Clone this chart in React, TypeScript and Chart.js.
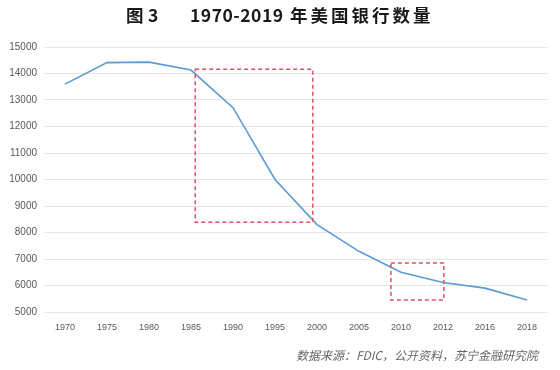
import React, { useEffect, useRef } from "react";
import { Chart, registerables } from "chart.js";

Chart.register(...registerables);

const categories = ["1970", "1975", "1980", "1985", "1990", "1995", "2000", "2005", "2010", "2012", "2016", "2018"];
const bankCounts = [13600, 14410, 14430, 14130, 12710, 10000, 8300, 7290, 6500, 6110, 5900, 5450];
const yTicks = [5000, 6000, 7000, 8000, 9000, 10000, 11000, 12000, 13000, 14000, 15000];
// highlight boxes: [x start (category index), x end, y top value, y bottom value]
const boxA = [3.1, 5.9, 14160, 8390];
const boxB = [7.76, 9.02, 6850, 5450];
const titleParts = ["图", "3", "1970-2019", "年美国银行数量"];
const sourceText = "数据来源：FDIC，公开资料，苏宁金融研究院";

const overlayPlugin = {
  id: "overlay",
  afterDatasetsDraw(chart: any) {
    const ctx = chart.ctx;
    const xs = chart.scales.x;
    const ys = chart.scales.y;
    ctx.save();
    ctx.strokeStyle = "#e0505f";
    ctx.lineWidth = 1.5;
    ctx.setLineDash([4, 3]);
    for (const b of [boxA, boxB]) {
      const x1 = xs.getPixelForValue(b[0]);
      const x2 = xs.getPixelForValue(b[1]);
      const y1 = ys.getPixelForValue(b[2]);
      const y2 = ys.getPixelForValue(b[3]);
      ctx.strokeRect(x1, y1, x2 - x1, y2 - y1);
    }
    ctx.restore();
  },
  afterDraw(chart: any) {
    const ctx = chart.ctx;
    ctx.save();
    ctx.fillStyle = "#1a1a1a";
    ctx.font = "bold 17.5px 'Noto Sans CJK SC'";
    ctx.textAlign = "left";
    ctx.textBaseline = "middle";
    const starts = [126, 148, 190, 290];
    const spacing = ["0px", "0px", "0.5px", "3px"];
    titleParts.forEach((t, i) => {
      (ctx as any).letterSpacing = spacing[i];
      ctx.fillText(t, starts[i], 15);
    });
    (ctx as any).letterSpacing = "0px";
    ctx.fillStyle = "#666666";
    ctx.font = "italic 12px 'Noto Sans CJK SC'";
    ctx.textAlign = "right";
    ctx.fillText(sourceText, 538, 355);
    ctx.restore();
  },
};

export default function App() {
  const ref = useRef<HTMLCanvasElement>(null);
  useEffect(() => {
    if (!ref.current) return;
    const chart = new Chart(ref.current, {
      type: "line",
      data: {
        labels: categories,
        datasets: [
          {
            data: bankCounts,
            borderColor: "#5b9bd5",
            borderWidth: 1.6,
            pointRadius: 0,
            tension: 0,
            fill: false,
          },
        ],
      },
      options: {
        animation: false,
        responsive: false,
        maintainAspectRatio: false,
        layout: { padding: { top: 47, left: 0, right: 12, bottom: 0 } },
        plugins: { legend: { display: false }, tooltip: { enabled: false }, title: { display: false } },
        scales: {
          x: {
            offset: true,
            grid: { display: false, drawTicks: false },
            border: { display: false },
            ticks: { color: "#595959", font: { family: "'Liberation Sans'", size: 9 }, padding: 10, maxRotation: 0, autoSkip: false },
            afterFit: (s: any) => { s.height = 58; },
          },
          y: {
            min: 5000,
            max: 15000,
            grid: { color: "#e6e6e6", drawTicks: false },
            border: { display: false },
            afterBuildTicks: (s: any) => { s.ticks = yTicks.map((v) => ({ value: v })); },
            ticks: {
              color: "#595959",
              font: { family: "'Liberation Sans'", size: 10 },
              padding: 7,
              callback: (v: any) => String(v),
            },
            afterFit: (s: any) => { s.width = 44; },
          },
        },
      },
      plugins: [overlayPlugin],
    });
    return () => chart.destroy();
  }, []);
  return (
    <div style={{ position: "absolute", left: 0, top: 0, width: 560, height: 370, background: "#fff" }}>
      <canvas ref={ref} width={560} height={370} />
    </div>
  );
}
